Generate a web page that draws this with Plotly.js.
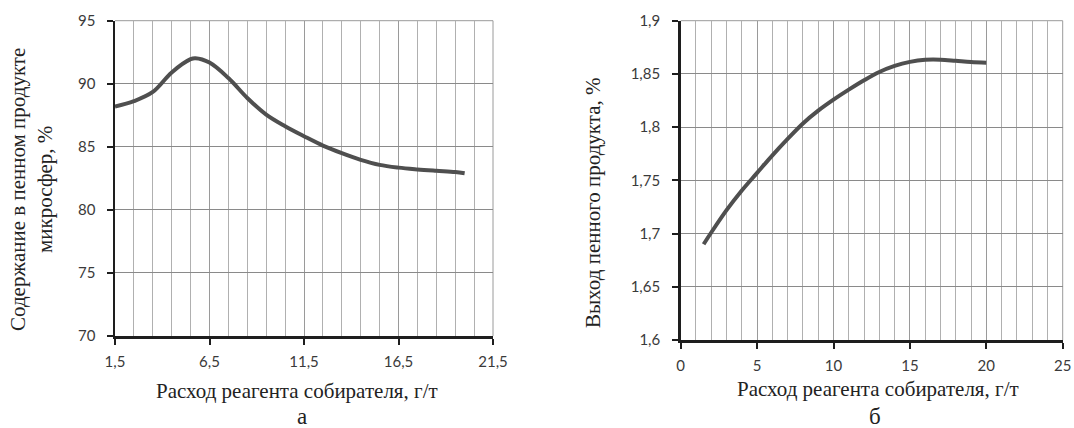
<!DOCTYPE html>
<html>
<head>
<meta charset="utf-8">
<script src="https://cdn.plot.ly/plotly-3.0.1.min.js"></script>
<style>html,body{margin:0;padding:0;background:#fff;}#chart{width:1074px;height:428px;}</style>
</head>
<body>
<div id="chart"></div>
<script>
// Chart (а): content of microspheres in froth product vs collector dosage
const dosageA = [1.5, 2.5, 3.5, 4.5, 5.5, 5.75, 6.5, 7.5, 8.5, 9.5, 10.5, 11.5, 12.5, 13.5, 14.5, 15.5, 16.5, 17.5, 18.5, 19.5, 20];
const contentA = [88.2, 88.62, 89.35, 90.9, 91.95, 92.03, 91.68, 90.45, 88.87, 87.55, 86.63, 85.84, 85.1, 84.5, 83.97, 83.57, 83.35, 83.21, 83.1, 83.0, 82.9];

// Chart (б): froth product yield vs collector dosage
const dosageB = [1.5, 2, 3, 4, 5, 6, 7, 8, 9, 10, 11, 12, 13, 14, 15, 16, 17, 18, 19, 20];
const yieldB = [1.69, 1.701, 1.722, 1.7405, 1.757, 1.7735, 1.789, 1.8035, 1.8155, 1.8258, 1.8352, 1.844, 1.8518, 1.8575, 1.8613, 1.8633, 1.8634, 1.8623, 1.8611, 1.8606];

const xTickValsA = [1.5, 6.5, 11.5, 16.5, 21.5];
const xTickTextA = ["1,5", "6,5", "11,5", "16,5", "21,5"];
const yTickValsA = [70, 75, 80, 85, 90, 95];
const yTickTextA = ["70", "75", "80", "85", "90", "95"];

const xTickValsB = [0, 5, 10, 15, 20, 25];
const xTickTextB = ["0", "5", "10", "15", "20", "25"];
const yTickValsB = [1.6, 1.65, 1.7, 1.75, 1.8, 1.85, 1.9];
const yTickTextB = ["1,6", "1,65", "1,7", "1,75", "1,8", "1,85", "1,9"];

const xTitle = "Расход реагента собирателя, г/т";
const yTitleA = "Содержание в пенном продукте<br>микросфер, %";
const yTitleB = "Выход пенного продукта, %";

const W = 1074, H = 428;
const px = v => v / W;
const py = v => 1 - v / H;

const tickFont = {family: "Lato, 'Open Sans', sans-serif", size: 15, color: "#3a3a3a"};
const serif = {family: "'Liberation Serif', 'DejaVu Serif', serif", size: 21, color: "#222"};
const serifBig = {family: "'Liberation Serif', 'DejaVu Serif', serif", size: 23, color: "#222"};

function xAxis(domain, range, vals, text, anchor) {
  return {
    domain: domain, range: range, anchor: anchor,
    tickmode: "array", tickvals: vals, ticktext: text,
    showgrid: true, gridcolor: "#9a9a9a", gridwidth: 1,
    minor: {dtick: 1, tick0: range[0], showgrid: true, gridcolor: "#b0b0b0", gridwidth: 1, ticklen: 0},
    showline: true, linecolor: "#1e1e1e", linewidth: 2.5,
    ticks: "outside", ticklen: 6, tickwidth: 2, tickcolor: "#1e1e1e",
    ticklabelstandoff: 4,
    tickfont: tickFont, zeroline: false, fixedrange: true
  };
}
function yAxis(domain, range, vals, text, anchor, standoff) {
  return {
    domain: domain, range: range, anchor: anchor,
    tickmode: "array", tickvals: vals, ticktext: text,
    showgrid: true, gridcolor: "#8a8a8a", gridwidth: 1,
    showline: true, linecolor: "#1e1e1e", linewidth: 2.5,
    ticks: "outside", ticklen: 6, tickwidth: 2, tickcolor: "#1e1e1e",
    ticklabelstandoff: standoff,
    tickfont: tickFont, zeroline: false, fixedrange: true
  };
}

const traces = [
  {x: dosageA, y: contentA, xaxis: "x", yaxis: "y", mode: "lines",
   line: {color: "#4f4f4f", width: 4, shape: "spline", smoothing: 1}, hoverinfo: "skip"},
  {x: dosageB, y: yieldB, xaxis: "x2", yaxis: "y2", mode: "lines",
   line: {color: "#4f4f4f", width: 4, shape: "spline", smoothing: 1}, hoverinfo: "skip"}
];

const layout = {
  width: W, height: H,
  margin: {l: 0, r: 0, t: 0, b: 0},
  paper_bgcolor: "#fff", plot_bgcolor: "#fff",
  showlegend: false,
  xaxis: xAxis([px(115), px(493)], [1.5, 21.5], xTickValsA, xTickTextA, "y"),
  yaxis: yAxis([py(336), py(20.7)], [70, 95], yTickValsA, yTickTextA, "x", 8),
  xaxis2: xAxis([px(680.7), px(1062.7)], [0, 25], xTickValsB, xTickTextB, "y2"),
  yaxis2: yAxis([py(340), py(20.7)], [1.6, 1.9], yTickValsB, yTickTextB, "x2", 9),
  shapes: [
    {type: "line", xref: "paper", yref: "paper", x0: px(115), x1: px(493), y0: py(20.7), y1: py(20.7), line: {color: "#9a9a9a", width: 1}, layer: "below"},
    {type: "line", xref: "paper", yref: "paper", x0: px(493), x1: px(493), y0: py(336), y1: py(20.7), line: {color: "#9a9a9a", width: 1}, layer: "below"},
    {type: "line", xref: "paper", yref: "paper", x0: px(680.7), x1: px(1062.7), y0: py(20.7), y1: py(20.7), line: {color: "#9a9a9a", width: 1}, layer: "below"},
    {type: "line", xref: "paper", yref: "paper", x0: px(1062.7), x1: px(1062.7), y0: py(340), y1: py(20.7), line: {color: "#9a9a9a", width: 1}, layer: "below"}
  ],
  annotations: [
    {text: xTitle, xref: "paper", yref: "paper", x: px(297), y: py(391), xanchor: "center", yanchor: "middle", showarrow: false, font: serif},
    {text: "а", xref: "paper", yref: "paper", x: px(302), y: py(416), xanchor: "center", yanchor: "middle", showarrow: false, font: serifBig},
    {text: yTitleA, xref: "paper", yref: "paper", x: px(31), y: py(190), xanchor: "center", yanchor: "middle", textangle: -90, showarrow: false, font: serif},
    {text: xTitle, xref: "paper", yref: "paper", x: px(878), y: py(389), xanchor: "center", yanchor: "middle", showarrow: false, font: serif},
    {text: "б", xref: "paper", yref: "paper", x: px(875), y: py(416), xanchor: "center", yanchor: "middle", showarrow: false, font: serifBig},
    {text: yTitleB, xref: "paper", yref: "paper", x: px(593), y: py(202), xanchor: "center", yanchor: "middle", textangle: -90, showarrow: false, font: serif}
  ]
};

Plotly.newPlot("chart", traces, layout, {displayModeBar: false, staticPlot: true});
</script>
</body>
</html>
